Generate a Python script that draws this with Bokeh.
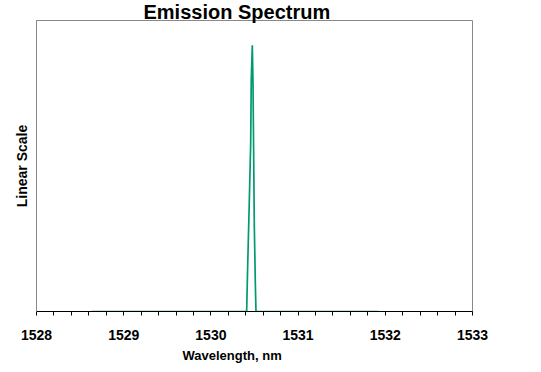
from bokeh.plotting import figure
from bokeh.models import FixedTicker, Range1d, Title
from bokeh.embed import file_html
from bokeh.resources import INLINE

# Data (normalized intensity)
wavelength = [1528.63, 1530.41, 1530.42, 1530.44, 1530.456, 1530.463, 1530.475,
              1530.483, 1530.498, 1530.51, 1530.517, 1531.92]
intensity = [0.0, 0.0, 0.136, 0.374, 0.574, 0.799, 0.915,
             0.782, 0.292, 0.090, 0.0, 0.0]

major_ticks = [1528, 1529, 1530, 1531, 1532, 1533]
minor_ticks = [1528.2, 1528.4, 1528.6, 1528.8, 1529.2, 1529.4, 1529.6, 1529.8,
               1530.2, 1530.4, 1530.6, 1530.8, 1531.2, 1531.4, 1531.6, 1531.8,
               1532.2, 1532.4, 1532.6, 1532.8]

title_text = "Emission Spectrum"
x_label = "Wavelength, nm"
y_label = "Linear Scale"

FONT = "Liberation Sans"

p = figure(width=525, height=368, output_backend="svg", toolbar_location=None,
           x_range=Range1d(1528, 1533), y_range=Range1d(0, 1),
           min_border_left=36, min_border_right=53, min_border_top=0,
           min_border_bottom=57)
p.title = Title(text=title_text, align="left", offset=107, standoff=-4,
                text_font=FONT, text_font_style="bold", text_font_size="20px",
                text_color="black", text_line_height=0.85)
p.background_fill_color = "white"
p.border_fill_color = "white"
p.outline_line_color = "#888888"
p.outline_line_width = 1
p.grid.visible = False

p.line(wavelength, intensity, line_color="#009970", line_width=1.7)

# X axis
xa = p.xaxis[0]
xa.ticker = FixedTicker(ticks=major_ticks, minor_ticks=minor_ticks)
xa.axis_line_color = "black"
xa.major_tick_line_color = "black"
xa.minor_tick_line_color = "black"
xa.major_tick_in = 0
xa.major_tick_out = 4
xa.minor_tick_in = 0
xa.minor_tick_out = 4
xa.major_label_text_font = FONT
xa.major_label_text_font_style = "bold"
xa.major_label_text_font_size = "14px"
xa.major_label_text_color = "black"
xa.major_label_standoff = 14

p.add_layout(Title(text=x_label, align="left", offset=146, standoff=7,
                   text_font=FONT, text_font_style="bold", text_font_size="13px",
                   text_color="black"), "below")

# Y axis
ya = p.yaxis[0]
ya.ticker = FixedTicker(ticks=[])
ya.axis_line_color = "#888888"
ya.major_tick_line_color = None
ya.minor_tick_line_color = None
ya.major_label_text_font_size = "0px"
ya.axis_label = y_label
ya.axis_label_text_font = FONT
ya.axis_label_text_font_style = "bold"
ya.axis_label_text_font_size = "14px"
ya.axis_label_text_color = "black"
ya.axis_label_standoff = 7

open("out.html", "w").write(file_html(p, INLINE))
